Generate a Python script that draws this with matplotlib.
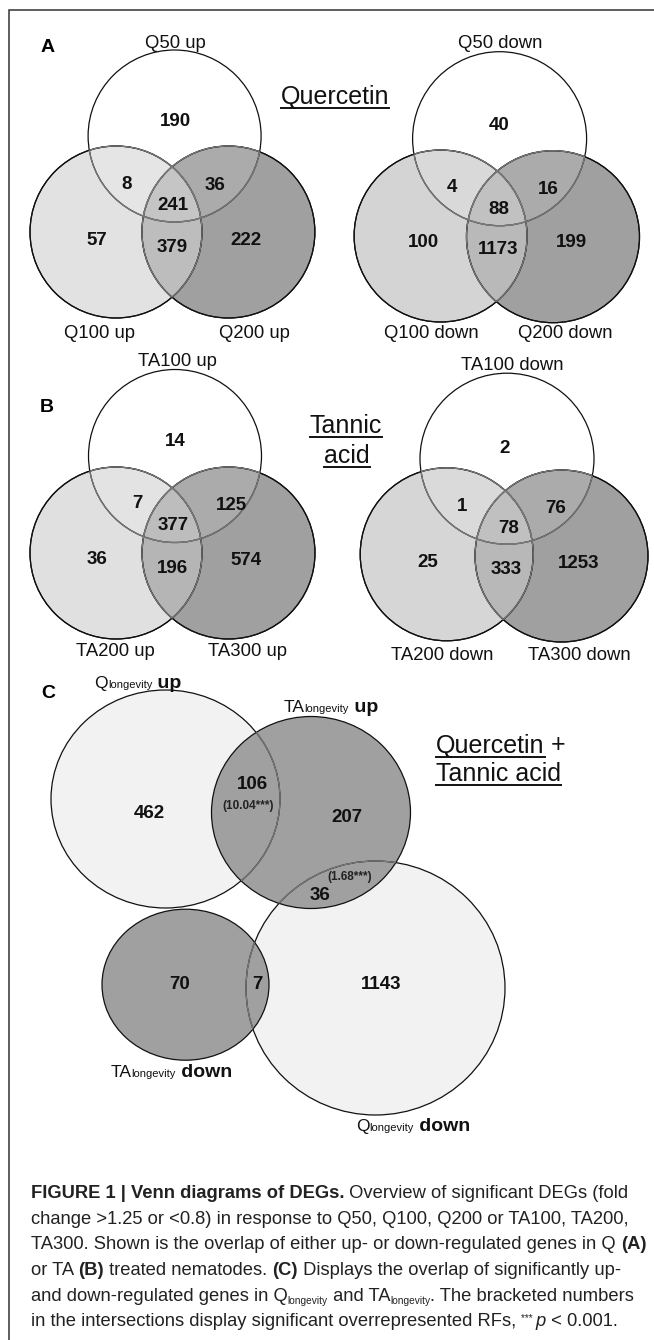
import matplotlib
matplotlib.use("Agg")
import matplotlib.pyplot as plt
from matplotlib.patches import Ellipse

plt.rcParams['font.family'] = ['Liberation Sans', 'DejaVu Sans']

# ---- data ----
# 3-set region order: top only, top&left, top&right, all three, left only, left&right, right only
q_up_names = ["Q50 up", "Q100 up", "Q200 up"]
q_up_counts = [190, 8, 36, 241, 57, 379, 222]
q_down_names = ["Q50 down", "Q100 down", "Q200 down"]
q_down_counts = [40, 4, 16, 88, 100, 1173, 199]
ta_up_names = ["TA100 up", "TA200 up", "TA300 up"]
ta_up_counts = [14, 7, 125, 377, 36, 196, 574]
ta_down_names = ["TA100 down", "TA200 down", "TA300 down"]
ta_down_counts = [2, 1, 76, 78, 25, 333, 1253]

# panel C: Q_longevity / TA_longevity
long_names = [("Q", "up"), ("TA", "up"), ("Q", "down"), ("TA", "down")]
long_up_counts = [462, 106, 207]      # Q up only, both, TA up only
long_up_rf = "(10.04***)"
cross_count = 36                      # TA up & Q down
cross_rf = "(1.68***)"
long_down_counts = [70, 7, 1143]      # TA down only, both, Q down only

# ---- layout (pixel units, y down) ----
W, H = 654, 1340
fig = plt.figure(figsize=(W / 100, H / 100), dpi=100)
ax = fig.add_axes([0, 0, 1, 1])
ax.set_xlim(0, W)
ax.set_ylim(H, 0)
ax.axis('off')
renderer = fig.canvas.get_renderer()

FADE = '#7a7a7a'


def circ(c, **kw):
    return Ellipse((c[0], c[1]), c[2], c[3], transform=ax.transData, **kw)


def draw_shapes(shapes, fills, fade_pairs, lens=None):
    for c, fc in zip(shapes, fills):
        ax.add_patch(circ(c, fc=fc, ec='none'))
    if lens is not None:
        i, j, fc = lens
        p = circ(shapes[i], fc=fc, ec='none')
        p.set_clip_path(circ(shapes[j]))
        ax.add_patch(p)
    for c in shapes:
        ax.add_patch(circ(c, fill=False, ec='#111111', lw=0.9))
    for i, j in fade_pairs:
        p = circ(shapes[i], fill=False, ec=FADE, lw=0.9)
        p.set_clip_path(circ(shapes[j]))
        ax.add_patch(p)


def venn3(shapes, names, counts, spots, name_spots, light, lr, top_alpha):
    # bottom pair first, then a faint white top circle over them
    draw_shapes(shapes[1:], [light, '#a0a0a0'], [], lens=(1, 0, lr))
    ax.add_patch(circ(shapes[0], fc='white', alpha=top_alpha, ec='none'))
    for c in shapes:
        ax.add_patch(circ(c, fill=False, ec='#111111', lw=0.9))
    for i in range(3):
        for j in range(3):
            if i != j:
                p = circ(shapes[i], fill=False, ec=FADE, lw=0.9)
                p.set_clip_path(circ(shapes[j]))
                ax.add_patch(p)
    for n, (x, y) in zip(counts, spots):
        ax.text(x, y + 7, str(n), ha='center', va='baseline',
                fontsize=13.5, fontweight='bold', color='#111111')
    for s, (x, y) in zip(names, name_spots):
        ax.text(x, y, s, ha='center', va='center', fontsize=13.3, color='#111111')


def width(s, **props):
    t = ax.text(0, 0, '|' + s + '|', **props)
    t2 = ax.text(0, 0, '||', **props)
    w = t.get_window_extent(renderer).width - t2.get_window_extent(renderer).width
    t.remove()
    t2.remove()
    return w


def rich(x, y, runs, ha='left'):
    ws = [width(s, **p) for s, p, dy in runs]
    if ha == 'center':
        x = x - sum(ws) / 2
    for (s, p, dy), w in zip(runs, ws):
        ax.text(x, y + dy, s, ha='left', va='baseline', **p)
        x += w


def underlined(x, y, s, size, ha='center', extra=''):
    t = ax.text(x, y, s, ha=ha, va='baseline', fontsize=size, color='#111111')
    bb = t.get_window_extent(renderer)
    inv = ax.transData.inverted()
    x0 = inv.transform((bb.x0, 0))[0]
    x1 = inv.transform((bb.x1, 0))[0]
    ax.plot([x0, x1], [y + 4, y + 4], color='#111111', lw=1.4)
    if extra:
        ax.text(x1, y, extra, ha='left', va='baseline', fontsize=size, color='#111111')


# frame
ax.plot([9, 9, W], [H, 10, 10], color='#333333', lw=1.1, solid_joinstyle='miter')

# panel letters
for s, (x, y) in zip("ABC", [(48, 48), (47, 408), (48, 693)]):
    ax.text(x, y, s, ha='center', va='center', fontsize=14, fontweight='bold')

# ---- panel A ----
venn3([(174.6, 136, 173, 172), (116, 232, 172, 172), (228.4, 232, 173, 172)],
      q_up_names, q_up_counts,
      [(175, 119), (127, 182), (215, 183), (173, 203), (97, 238), (172, 245), (246, 238)],
      [(175, 43), (100, 333), (254, 333)], '#e2e2e2', '#bdbdbd', 0.12)
venn3([(499.6, 138.7, 174, 174), (440.6, 236, 173, 172), (553, 236.7, 173, 172)],
      q_down_names, q_down_counts,
      [(499, 123), (452, 185), (548, 187), (499, 207), (423, 240), (498, 247), (571, 240)],
      [(500, 43), (431, 333), (565, 333)], '#d4d4d4', '#b9b9b9', 0.12)
underlined(335, 104, "Quercetin", 18)

# ---- panel B ----
venn3([(175, 456, 173, 173), (116, 553, 172, 172), (228.5, 553, 173, 172)],
      ta_up_names, ta_up_counts,
      [(175, 439), (137.5, 501), (231, 503), (173, 523), (97, 557), (172, 566), (246, 558)],
      [(177, 361), (115, 651), (248, 651)], '#e0e0e0', '#b5b5b5', 0.12)
venn3([(507, 458.7, 174, 171), (446.7, 554.3, 173, 173), (561.5, 556, 173, 172)],
      ta_down_names, ta_down_counts,
      [(505, 446), (462, 504), (556, 506), (509, 526), (428, 560), (506, 567), (579, 561)],
      [(512, 366), (442, 655), (579, 655)], '#d6d6d6', '#b8b8b8', 0.12)
underlined(346, 433, "Tannic", 18)
underlined(347, 463, "acid", 18)

# ---- panel C ----
c_shapes = [(165.5, 799, 229, 218), (311, 812.5, 199, 192),
            (375.5, 988, 259, 254), (185.5, 984.7, 167, 151)]
draw_shapes([c_shapes[0], c_shapes[2], c_shapes[1], c_shapes[3]],
            ['#f2f2f2', '#f2f2f2', '#a0a0a0', '#a0a0a0'],
            [(0, 2), (1, 2), (1, 3)])

num = dict(fontsize=13.5, fontweight='bold', color='#111111')
for n, (x, y) in zip(long_up_counts, [(149, 811), (252, 782), (347, 815)]):
    ax.text(x, y + 7, str(n), ha='center', va='baseline', **num)
ax.text(248, 806, long_up_rf, ha='center', va='center', fontsize=8.5,
        fontweight='bold', color='#222222')
ax.text(349.5, 877, cross_rf, ha='center', va='center', fontsize=8.5,
        fontweight='bold', color='#222222')
ax.text(320, 893 + 7, str(cross_count), ha='center', va='baseline', **num)
for n, (x, y) in zip(long_down_counts, [(180, 982), (257.5, 982), (381, 982)]):
    ax.text(x, y + 7, str(n), ha='center', va='baseline', **num)

for (pre, post), (x, y) in zip(long_names, [(138, 688), (331, 712), (413, 1131), (171, 1077)]):
    rich(x, y, [(pre, dict(fontsize=12.5, color='#111111'), 0),
                ('longevity', dict(fontsize=8, color='#111111'), 0),
                (' ' + post, dict(fontsize=14, fontweight='bold', color='#111111'), 0)],
         ha='center')

underlined(436, 752.5, "Quercetin", 18, ha='left', extra=' +')
underlined(436, 781, "Tannic acid", 18, ha='left')

# ---- caption ----
cap = 13.2
n_ = dict(fontsize=cap, color='#222222')
b_ = dict(fontsize=cap, color='#222222', fontweight='bold')
s_ = dict(fontsize=cap * 0.55, color='#222222')
i_ = dict(fontsize=cap, color='#222222', style='italic')
caption = [
    [("FIGURE 1 | Venn diagrams of DEGs.", b_, 0), (" Overview of significant DEGs (fold", n_, 0)],
    [("change >1.25 or <0.8) in response to Q50, Q100, Q200 or TA100, TA200,", n_, 0)],
    [("TA300. Shown is the overlap of either up- or down-regulated genes in Q ", n_, 0), ("(A)", b_, 0)],
    [("or TA ", n_, 0), ("(B)", b_, 0), (" treated nematodes. ", n_, 0), ("(C)", b_, 0),
     (" Displays the overlap of significantly up-", n_, 0)],
    [("and down-regulated genes in Q", n_, 0), ("longevity", s_, 3), (" and TA", n_, 0),
     ("longevity", s_, 3), (". The bracketed numbers", n_, 0)],
    [("in the intersections display significant overrepresented RFs, ", n_, 0), ("*** ", s_, -5),
     ("p", i_, 0), (" < 0.001.", n_, 0)],
]
for k, line in enumerate(caption):
    rich(31, 1198 + k * 25.7, line)

fig.savefig("out.png", dpi=100)
